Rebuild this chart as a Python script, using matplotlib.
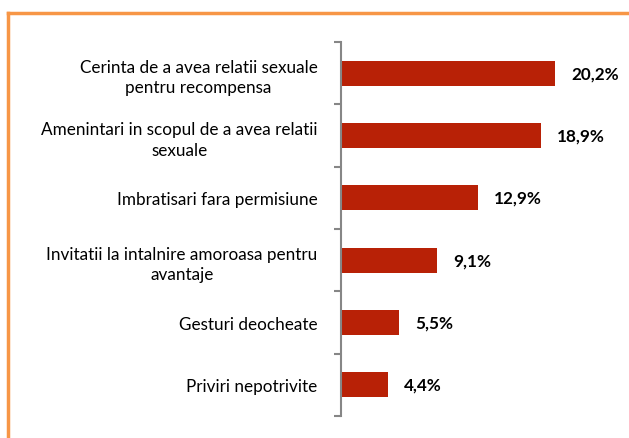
import matplotlib
matplotlib.use("Agg")
import matplotlib.pyplot as plt
import numpy as np
from matplotlib.lines import Line2D

categories = [
    "Cerinta de a avea relatii sexuale\npentru recompensa",
    "Amenintari in scopul de a avea relatii\nsexuale",
    "Imbratisari fara permisiune",
    "Invitatii la intalnire amoroasa pentru\navantaje",
    "Gesturi deocheate",
    "Priviri nepotrivite",
]
values = [20.2, 18.9, 12.9, 9.1, 5.5, 4.4]
value_labels = ["20,2%", "18,9%", "12,9%", "9,1%", "5,5%", "4,4%"]

plt.rcParams["font.family"] = ["Lato", "DejaVu Sans"]

W, H = 629, 439
fig = plt.figure(figsize=(W / 100, H / 100), dpi=100)
ax = fig.add_axes([341 / W, 1 - 417 / H, 265 / W, (417 - 43) / H])

bar_color = "#B82106"
axis_gray = "#868686"

n = len(categories)
y = np.arange(n)[::-1]
ax.barh(y, values, height=0.4, color=bar_color, edgecolor="none")
ax.set_xlim(0, 25)
ax.set_ylim(-0.5, n - 0.5)

for yi, v, lab in zip(y, values, value_labels):
    ax.annotate(lab, (v, yi), xytext=(11.5, 0), textcoords="offset points",
                ha="left", va="center", fontsize=12.3, fontweight="bold", color="black")

ax.set_yticks(y)
ax.set_yticklabels(categories, fontsize=12.3, multialignment="center", linespacing=1.35)
ax.tick_params(axis="y", length=0, pad=17)
ax.set_yticks(np.arange(-0.5, n, 1.0), minor=True)
ax.tick_params(axis="y", which="minor", length=5, width=1.5, color=axis_gray, direction="out")
ax.set_xticks([])

for s in ["top", "right", "bottom"]:
    ax.spines[s].set_visible(False)
ax.spines["left"].set_color(axis_gray)
ax.spines["left"].set_linewidth(1.5)

# orange frame (top and left edge visible)
border = "#F79646"
fig.add_artist(Line2D([7.5 / W, 7.5 / W], [0, 1 - 13.5 / H], transform=fig.transFigure,
                      color=border, linewidth=2.5, solid_capstyle="projecting"))
fig.add_artist(Line2D([7.5 / W, 1], [1 - 13.5 / H, 1 - 13.5 / H], transform=fig.transFigure,
                      color=border, linewidth=2.5, solid_capstyle="projecting"))

fig.savefig("out.png", dpi=100)
